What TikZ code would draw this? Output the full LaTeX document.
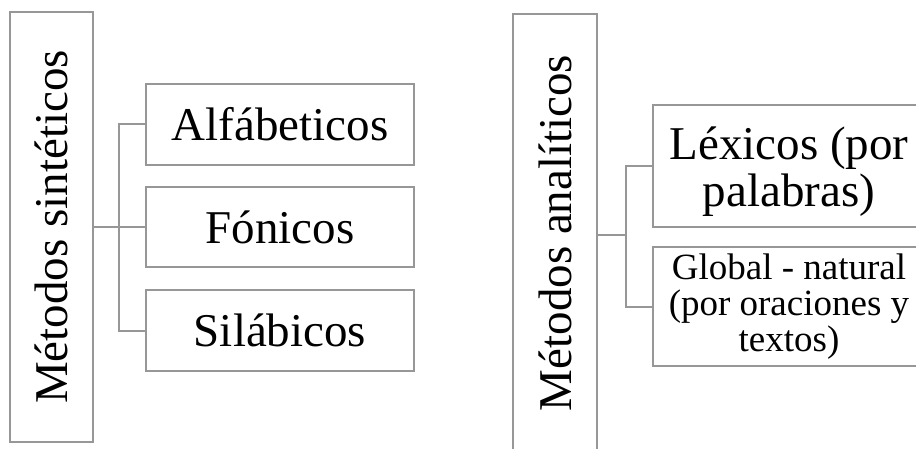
\documentclass[tikz,border=0pt]{standalone}
\usepackage{fontspec}
\setmainfont{Liberation Serif}
\definecolor{edgegray}{HTML}{979797}
\begin{document}
\begin{tikzpicture}[x=1pt,y=1pt,
  box/.style={draw=edgegray, line width=2pt, inner sep=0pt, align=center, fill=white},
  conn/.style={draw=edgegray, line width=2pt},
  big/.style={font=\fontsize{47}{47}\selectfont},
  small/.style={font=\fontsize{37}{36}\selectfont},
  txt/.style={inner sep=0pt, align=center},
  vlabel/.style={big, rotate=90, inner sep=0pt}]
\useasboundingbox (0,0) rectangle (916,448);
\clip (0,0) rectangle (916,448);

% --- synthetic methods ---
\node[box, minimum width=83, minimum height=430] (L1) at (51.5,221) {};
\node[vlabel] (L1t) at (L1) {Métodos sintéticos};
\node[box, big, minimum width=268, minimum height=81] (A) at (280,323.5) {Alfábeticos};
\node[box, big, minimum width=268, minimum height=80] (F) at (280,221) {Fónicos};
\node[box, big, minimum width=268, minimum height=81] (S) at (280,117.5) {Silábicos};
\coordinate (lj) at (119,221);
\draw[conn] (L1.east) -- (L1.east -| lj);
\draw[conn] (A.west) -| (lj |- S.west) -- (S.west);
\draw[conn] (lj |- F.west) -- (F.west);

% --- analytic methods ---
\node[box, minimum width=84, minimum height=438] (R1) at (555,215) {};
\node[vlabel] (R1t) at (R1) {Métodos analíticos};
\node[box, minimum width=272, minimum height=122] (LX) at (789,282) {};
\node[txt, big] (LXt) at (789,276) {Léxicos (por\\palabras)};
\node[box, small, minimum width=272, minimum height=119] (G) at (789,141.5) {Global - natural\\(por oraciones y\\textos)};
\coordinate (rj) at (626,213);
\draw[conn] (R1.east |- rj) -- (rj);
\draw[conn] (LX.west) -| (rj |- G.west) -- (G.west);
\end{tikzpicture}
\end{document}
